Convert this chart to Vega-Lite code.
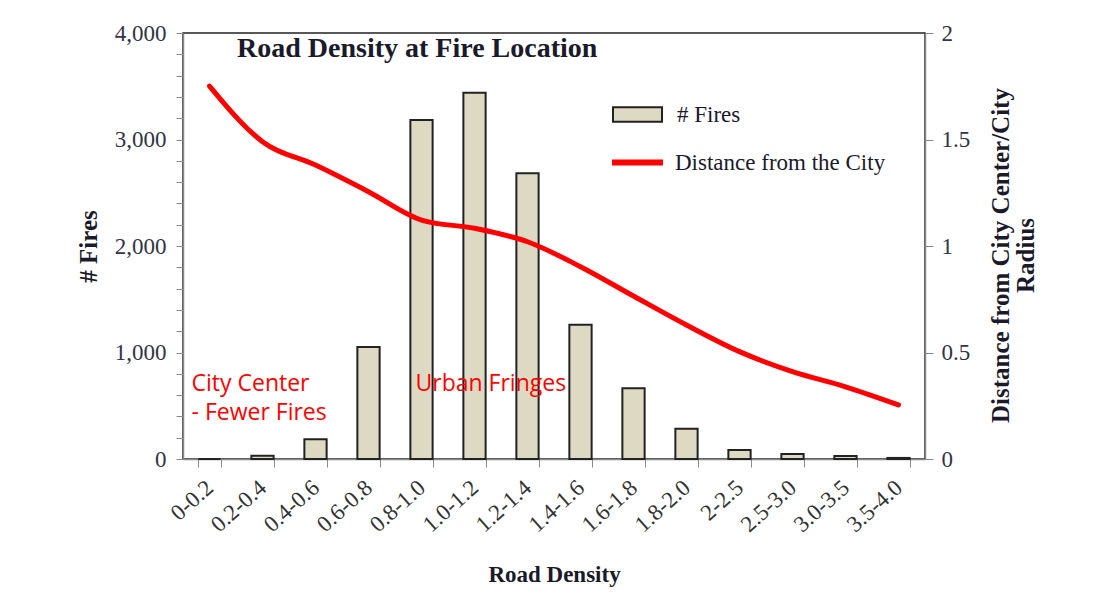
{
  "$schema": "https://vega.github.io/schema/vega-lite/v6.json",
  "width": 742,
  "height": 426,
  "autosize": {"type": "none"},
  "padding": {"left": 183, "top": 33, "right": 178, "bottom": 144},
  "background": "white",
  "config": {
    "view": {"stroke": "#222", "strokeWidth": 1.5},
    "font": "Liberation Serif"
  },
  "title": {
    "text": "Road Density at Fire Location",
    "anchor": "start",
    "frame": "group",
    "dx": 54,
    "offset": -63,
    "baseline": "alphabetic",
    "font": "Liberation Serif",
    "fontSize": 28,
    "fontWeight": "bold",
    "color": "#1a1a2a"
  },
  "data": {
    "values": [
      {"density": "0-0.2", "fires": 0, "dist": 1.751},
      {"density": "0.2-0.4", "fires": 30, "dist": 1.49},
      {"density": "0.4-0.6", "fires": 185, "dist": 1.38},
      {"density": "0.6-0.8", "fires": 1052, "dist": 1.255},
      {"density": "0.8-1.0", "fires": 3183, "dist": 1.122},
      {"density": "1.0-1.2", "fires": 3439, "dist": 1.083},
      {"density": "1.2-1.4", "fires": 2683, "dist": 1.02},
      {"density": "1.4-1.6", "fires": 1260, "dist": 0.903},
      {"density": "1.6-1.8", "fires": 665, "dist": 0.765},
      {"density": "1.8-2.0", "fires": 285, "dist": 0.629},
      {"density": "2-2.5", "fires": 85, "dist": 0.504},
      {"density": "2.5-3.0", "fires": 47, "dist": 0.41},
      {"density": "3.0-3.5", "fires": 28, "dist": 0.339},
      {"density": "3.5-4.0", "fires": 10, "dist": 0.254}
    ]
  },
  "layer": [
    {
      "layer": [
        {
          "mark": {"type": "bar", "stroke": "#222", "strokeWidth": 2},
          "encoding": {
            "x": {
              "field": "density",
              "type": "ordinal",
              "scale": {
                "domain": ["0-0.2", "0.2-0.4", "0.4-0.6", "0.6-0.8", "0.8-1.0", "1.0-1.2", "1.2-1.4", "1.4-1.6", "1.6-1.8", "1.8-2.0", "2-2.5", "2.5-3.0", "3.0-3.5", "3.5-4.0"],
                "paddingInner": 0.58,
                "paddingOuter": 0.29
              },
              "axis": {
                "title": "Road Density",
                "tickBand": "extent",
                "labelAngle": -42,
                "labelAlign": "right",
                "labelBaseline": "middle",
                "labelFont": "Liberation Serif",
                "labelFontSize": 23,
                "labelColor": "#333",
                "labelPadding": 17,
                "tickSize": 8,
                "tickColor": "#888",
                "domainColor": "#888",
                "domainWidth": 1.5,
                "titleFont": "Liberation Serif",
                "titleFontSize": 23,
                "titleFontWeight": "bold",
                "titleColor": "#1a1a2a",
                "titlePadding": 27
              }
            },
            "y": {
              "field": "fires",
              "type": "quantitative",
              "scale": {"domain": [0, 4000]},
              "axis": {
                "orient": "left",
                "title": "# Fires",
                "values": [0, 1000, 2000, 3000, 4000],
                "format": ",.0f",
                "labelOverlap": false,
                "grid": false,
                "tickSize": 7,
                "tickColor": "#888",
                "domainColor": "#888",
                "domainWidth": 1.5,
                "labelFont": "Liberation Serif",
                "labelFontSize": 23,
                "labelColor": "#333344",
                "labelPadding": 10,
                "titleFont": "Liberation Serif",
                "titleFontSize": 25,
                "titleFontWeight": "bold",
                "titleColor": "#1a1a2a",
                "titlePadding": 13
              }
            },
            "fill": {
              "datum": "# Fires",
              "type": "nominal",
              "scale": {"domain": ["# Fires"], "range": ["#ddd9c3"]},
              "legend": {
                "title": null,
                "orient": "none",
                "legendX": 429,
                "legendY": 56,
                "padding": 0,
                "symbolType": "M-1,-0.3H1V0.3H-1Z",
                "symbolSize": 2401,
                "symbolStrokeColor": "#222",
                "symbolStrokeWidth": 2,
                "symbolOpacity": 1,
                "labelFont": "Liberation Serif",
                "labelFontSize": 23,
                "labelColor": "#1a1a2a",
                "labelOffset": 14,
                "labelLimit": 0
              }
            }
          }
        },
        {
          "data": {
            "values": [
              {"density": "0-0.2", "fires": 704, "note": "City Center"},
              {"density": "0-0.2", "fires": 432, "note": "- Fewer Fires"}
            ]
          },
          "mark": {"type": "text", "align": "left", "baseline": "middle", "dx": -18, "font": "Open Sans", "fontSize": 23, "color": "#ff0000"},
          "encoding": {
            "x": {"field": "density", "type": "ordinal"},
            "y": {
              "field": "fires",
              "type": "quantitative",
              "axis": {
                "orient": "left",
                "title": null,
                "values": [200, 400, 600, 800, 1200, 1400, 1600, 1800, 2200, 2400, 2600, 2800, 3200, 3400, 3600, 3800],
                "labels": false,
                "domain": false,
                "grid": false,
                "tickSize": 7,
                "tickColor": "#888"
              }
            },
            "text": {"field": "note"}
          }
        },
        {
          "data": {
            "values": [
              {"density": "0.8-1.0", "fires": 704, "note": "Urban Fringes"}
            ]
          },
          "mark": {"type": "text", "align": "left", "baseline": "middle", "dx": -6, "font": "Open Sans", "fontSize": 23, "color": "#ff0000"},
          "encoding": {
            "x": {"field": "density", "type": "ordinal"},
            "y": {"field": "fires", "type": "quantitative", "axis": null},
            "text": {"field": "note"}
          }
        }
      ],
      "resolve": {"axis": {"y": "independent"}}
    },
    {
      "mark": {"type": "line", "interpolate": "monotone", "strokeWidth": 5, "strokeCap": "round"},
      "encoding": {
        "x": {"field": "density", "type": "ordinal"},
        "y": {
          "field": "dist",
          "type": "quantitative",
          "scale": {"domain": [0, 2]},
          "axis": {
            "orient": "right",
            "title": ["Distance from City Center/City", "Radius"],
            "values": [0, 0.5, 1, 1.5, 2],
            "labelExpr": "'' + datum.value",
            "grid": false,
            "tickSize": 8,
            "tickColor": "#888",
            "domainColor": "#888",
            "domainWidth": 1.5,
            "labelFont": "Liberation Serif",
            "labelFontSize": 23,
            "labelColor": "#333344",
            "labelPadding": 8,
            "titleFont": "Liberation Serif",
            "titleFontSize": 25,
            "titleFontWeight": "bold",
            "titleColor": "#1a1a2a",
            "titleAngle": -90,
            "titlePadding": 19,
            "titleLineHeight": 25,
            "titleY": 222
          }
        },
        "stroke": {
          "datum": "Distance from the City",
          "type": "nominal",
          "scale": {"domain": ["Distance from the City"], "range": ["#ff0000"]},
          "legend": {
            "title": null,
            "orient": "none",
            "legendX": 426,
            "legendY": 101,
            "padding": 0,
            "symbolType": "stroke",
            "symbolSize": 2601,
            "symbolStrokeWidth": 6,
            "labelFont": "Liberation Serif",
            "labelFontSize": 23,
            "labelColor": "#1a1a2a",
            "labelOffset": 9,
            "labelLimit": 0
          }
        }
      }
    }
  ],
  "resolve": {"scale": {"y": "independent"}}
}
